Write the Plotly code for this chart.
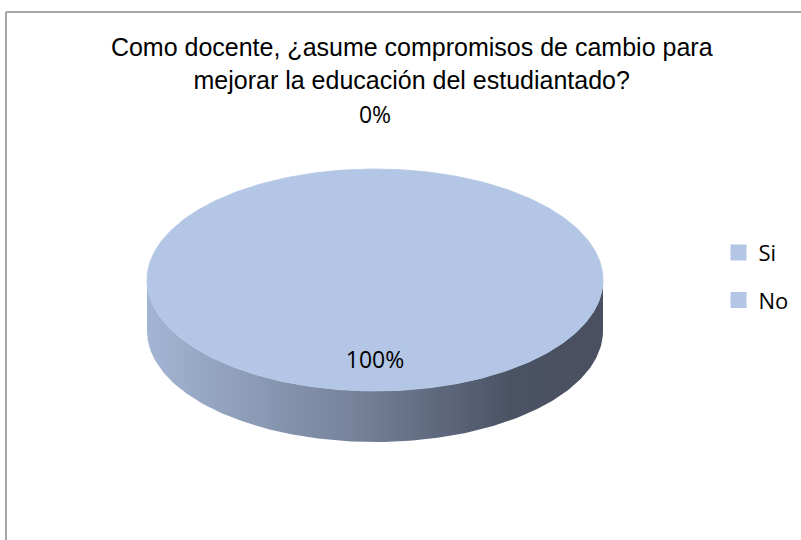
import numpy as np
import plotly.graph_objects as go

# ---- data ----
categories = ["Si", "No"]
values = [100, 0]
title_lines = ["Como docente, ¿asume compromisos de cambio para", "mejorar la educación del estudiantado?"]

# ---- style / layout ----
W, H = 801, 540
top_color = "#B3C6E5"
side_scale = [[0, "#A3B5D3"], [0.45, "#76839B"], [0.8, "#4B5264"], [1, "#4A5062"]]
CX, CY, RX, RY, DEPTH = 375, 280, 228, 111, 51
label_font = dict(family="Open Sans", size=23, color="#000000")

total = float(sum(values))
fracs = [v / total for v in values]


def pt(theta_deg, r=1.0, dy=0.0):
    t = np.radians(theta_deg)
    return CX + r * RX * np.sin(t), CY - r * RY * np.cos(t) + dy


fig = go.Figure()

# slices: angles clockwise from 12 o'clock
start = 0.0
slices = []
for cat, f in zip(categories, fracs):
    end = start + 360.0 * f
    slices.append((cat, start, end))
    start = end

# side walls (visible front part: 90..270 deg)
for cat, a0, a1 in slices:
    lo, hi = max(a0, 90.0), min(a1, 270.0)
    if hi <= lo:
        continue
    th = np.linspace(lo, hi, 200)
    xs_top, ys_top = pt(th)
    xs_bot, ys_bot = pt(th[::-1], dy=DEPTH)
    xs = np.concatenate([xs_top, xs_bot, xs_top[:1]])
    ys = np.concatenate([ys_top, ys_bot, ys_top[:1]])
    fig.add_trace(go.Scatter(
        x=xs, y=ys, mode="lines", fill="toself",
        line=dict(width=0, color="rgba(0,0,0,0)"),
        fillgradient=dict(type="horizontal", colorscale=side_scale),
        hoverinfo="skip", showlegend=False))

# top faces
for cat, a0, a1 in slices:
    if a1 - a0 <= 0:
        continue
    th = np.linspace(a0, a1, 400)
    xs, ys = pt(th)
    if a1 - a0 < 360:
        xs = np.concatenate([[CX], xs, [CX]])
        ys = np.concatenate([[CY], ys, [CY]])
    fig.add_trace(go.Scatter(
        x=xs, y=ys, mode="lines", fill="toself",
        line=dict(width=0.8, color=top_color), fillcolor=top_color,
        name=cat, hoverinfo="skip", showlegend=False))

# data labels
lx, ly, lt = [], [], []
for (cat, a0, a1), f in zip(slices, fracs):
    mid = (a0 + a1) / 2.0
    if f > 0:
        x, y = pt(mid, r=0.74)
    else:
        x, y = pt(mid, r=1.0 + 52.0 / RY)
    lx.append(x)
    ly.append(y)
    lt.append(f"{round(f * 100)}%")
fig.add_trace(go.Scatter(x=lx, y=ly, mode="text", text=lt,
                         textfont=label_font, hoverinfo="skip", showlegend=False))

# legend entries
for i, cat in enumerate(categories):
    fig.add_trace(go.Scatter(
        x=[None], y=[None], mode="markers", name=cat, legendgroup=cat,
        marker=dict(symbol="square", size=16, color=top_color)))

fig.update_layout(
    width=W, height=H,
    margin=dict(l=0, r=0, t=0, b=0),
    paper_bgcolor="white", plot_bgcolor="white",
    xaxis=dict(range=[0, W], visible=False, fixedrange=True),
    yaxis=dict(range=[H, 0], visible=False, fixedrange=True),
    title=dict(text="<br>".join(title_lines), x=0.514, xanchor="center",
               y=1 - 56 / H, yanchor="top",
               font=dict(family="Liberation Sans, Arial", size=25, color="#000000")),
    legend=dict(x=0.897, y=0.571, xanchor="left", yanchor="top",
                font=dict(family="Open Sans", size=22, color="#000000"),
                traceorder="grouped", tracegroupgap=16,
                bgcolor="rgba(0,0,0,0)", itemwidth=30),
    shapes=[
        dict(type="line", xref="paper", yref="paper", x0=6 / W, x1=1.02, y0=1 - 12 / H, y1=1 - 12 / H,
             line=dict(color="#A6A6A6", width=2)),
        dict(type="line", xref="paper", yref="paper", x0=6 / W, x1=6 / W, y0=1 - 12 / H, y1=-0.02,
             line=dict(color="#A6A6A6", width=2)),
    ],
)

fig.write_html("out.html")
